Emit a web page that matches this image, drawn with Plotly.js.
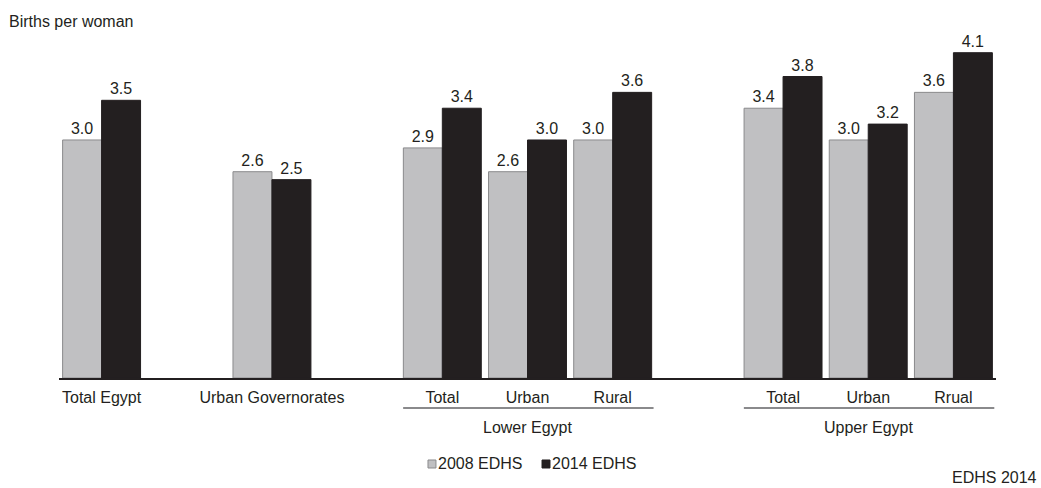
<!DOCTYPE html>
<html>
<head>
<meta charset="utf-8">
<script src="https://cdn.plot.ly/plotly-3.0.1.min.js"></script>
<style>html,body{margin:0;padding:0;background:#fff;}#chart{width:1041px;height:488px;}</style>
</head>
<body>
<div id="chart"></div>
<script>
// Data
const regionNames = ['', '', 'Lower Egypt', 'Upper Egypt'];
const subCategories = [
  ['Total Egypt'],
  ['Urban Governorates'],
  ['Total', 'Urban', 'Rural'],
  ['Total', 'Urban', 'Rrual']
];
const seriesNames = ['2008 EDHS', '2014 EDHS'];
const values2008 = [3.0, 2.6, 2.9, 2.6, 3.0, 3.4, 3.0, 3.6];
const values2014 = [3.5, 2.5, 3.4, 3.0, 3.6, 3.8, 3.2, 4.1];
const yTitle = 'Births per woman';
const sourceNote = 'EDHS 2014';

// Build positions: one slot per subcategory, one empty slot between regions
const xs = [], labels = [], groupSpans = [];
let pos = 0;
subCategories.forEach((cats, gi) => {
  const start = pos;
  cats.forEach(c => { xs.push(pos); labels.push(c); pos++; });
  groupSpans.push({name: regionNames[gi], start: start, end: pos - 1});
  pos++;
});

const textColor = '#231f20';
const font = {family: 'Liberation Sans, Arial, sans-serif', size: 16, color: textColor};
const grayFill = '#c0c0c2', grayLine = '#8a8a8c', blackFill = '#231f20';
const fills = [grayFill, blackFill], outlines = [grayLine, blackFill];

const traces = [
  {type: 'bar', x: xs, y: values2008, name: seriesNames[0], showlegend: false,
   marker: {color: grayFill, line: {color: grayLine, width: 1}},
   text: values2008.map(v => v.toFixed(1)), textposition: 'outside', cliponaxis: false,
   textfont: font, hoverinfo: 'skip'},
  {type: 'bar', x: xs, y: values2014, name: seriesNames[1], showlegend: false,
   marker: {color: blackFill, line: {color: blackFill, width: 1}},
   text: values2014.map(v => v.toFixed(1)), textposition: 'outside', cliponaxis: false,
   textfont: font, hoverinfo: 'skip'}
];

const shapes = [], annotations = [];
groupSpans.forEach(g => {
  if (!g.name) return;
  shapes.push({type: 'line', xref: 'x', yref: 'paper', x0: g.start - 0.46, x1: g.end + 0.48,
    y0: -0.089, y1: -0.089, line: {color: '#8a8a8c', width: 2}});
  annotations.push({xref: 'x', yref: 'paper', x: (g.start + g.end) / 2, y: -0.145,
    text: g.name, showarrow: false, xanchor: 'center', yanchor: 'middle', font: font});
});

// Compact legend (square swatch + label), built from the series names
const legendX = [0.3938, 0.5155];
const swW = 0.0085;
seriesNames.forEach((nm, i) => {
  shapes.push({type: 'rect', xref: 'paper', yref: 'paper', x0: legendX[i], x1: legendX[i] + swW,
    y0: -0.2663, y1: -0.2426, fillcolor: fills[i], line: {color: outlines[i], width: 1}});
  annotations.push({xref: 'paper', yref: 'paper', x: legendX[i] + swW + 0.0005, y: -0.2544,
    text: nm, showarrow: false, xanchor: 'left', yanchor: 'middle', font: font});
});

annotations.push({xref: 'paper', yref: 'paper', x: -0.056, y: 1.056, text: yTitle,
  showarrow: false, xanchor: 'left', yanchor: 'middle', font: font});
annotations.push({xref: 'paper', yref: 'paper', x: 1.046, y: -0.293, text: sourceNote,
  showarrow: false, xanchor: 'right', yanchor: 'middle', font: font});

const layout = {
  width: 1041, height: 488,
  margin: {l: 59, r: 45, t: 40, b: 110},
  paper_bgcolor: '#fff', plot_bgcolor: '#fff',
  font: font,
  barmode: 'group', bargap: 0.085, bargroupgap: 0,
  xaxis: {range: [-0.5, 10.5], tickmode: 'array', tickvals: xs, ticktext: labels,
    showline: true, linecolor: textColor, linewidth: 1.5, ticks: '', showgrid: false,
    zeroline: false, tickfont: font, ticklabelstandoff: 4, fixedrange: true},
  yaxis: {range: [0, 4.26], visible: false, showgrid: false, zeroline: false, fixedrange: true},
  shapes: shapes, annotations: annotations, showlegend: false
};

Plotly.newPlot('chart', traces, layout, {displayModeBar: false, staticPlot: true});
</script>
</body>
</html>
